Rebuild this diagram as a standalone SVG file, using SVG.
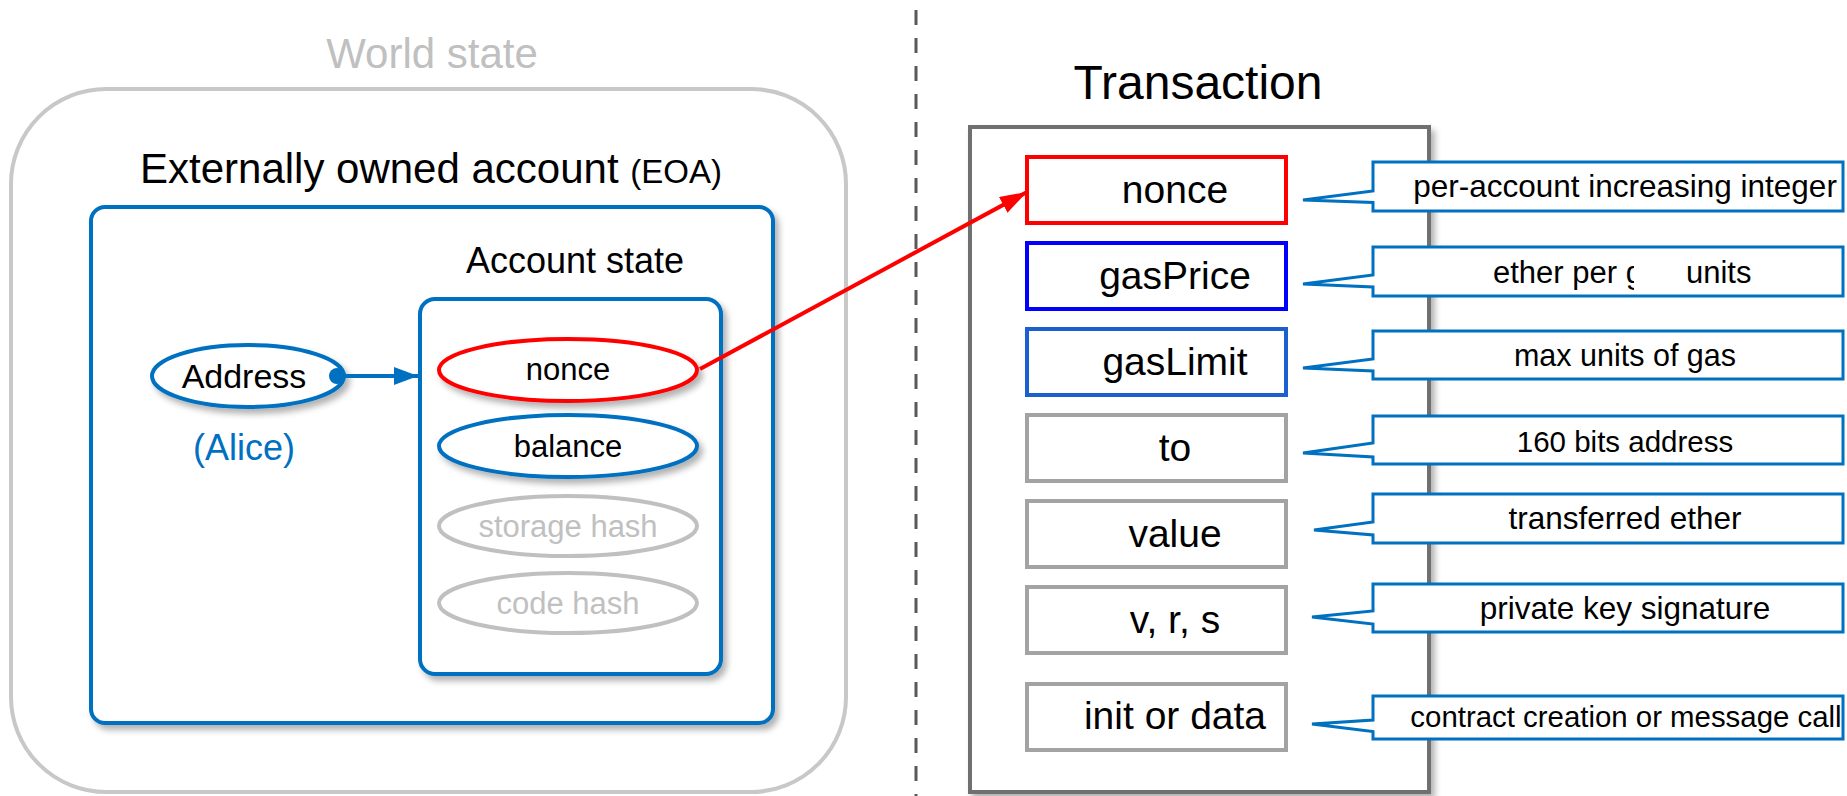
<svg xmlns="http://www.w3.org/2000/svg" width="1847" height="796" viewBox="0 0 1847 796">
<style>
text{font-family:"Liberation Sans",Arial,sans-serif}
.title{font-size:42px;fill:#000}
.blueBox{fill:#fff;stroke:#0070c0;stroke-width:4}
.ell{fill:#fff;stroke-width:4}
.etxt{font-size:31px;text-anchor:middle;fill:#000}
.field{fill:#fff;stroke-width:4}
.ftxt{font-size:39px;text-anchor:middle;fill:#000}
.call{fill:#fff;stroke:#0070c0;stroke-width:3;stroke-linejoin:miter}
.ctxt{font-size:31px;text-anchor:middle;fill:#000}
</style>
<defs>
<filter id="sh" x="-10%" y="-10%" width="130%" height="130%">
<feDropShadow dx="4" dy="5" stdDeviation="3" flood-color="#000" flood-opacity="0.3"/>
</filter>
<marker id="arrBlue" markerWidth="24" markerHeight="18" refX="24" refY="9" orient="auto" markerUnits="userSpaceOnUse">
<path d="M0,0 L24,9 L0,18 Z" fill="#0070c0"/>
</marker>
<marker id="arrRed" markerWidth="27" markerHeight="18" refX="27" refY="9" orient="auto" markerUnits="userSpaceOnUse">
<path d="M0,0 L27,9 L0,18 Z" fill="#ff0000"/>
</marker>
<clipPath id="clipG"><rect x="1480" y="240" width="154" height="60"/></clipPath>
</defs>
<rect width="1847" height="796" fill="#fff"/>

<g id="divider">
<line x1="916" y1="10" x2="916" y2="796" stroke="#595959" stroke-width="3" stroke-dasharray="15 13"/>
</g>

<g id="world-state">
<text x="432" y="68" class="title" text-anchor="middle" style="fill:#c0c0c0">World state</text>
<rect x="11" y="89" width="835" height="703" rx="95" ry="95" fill="#fff" stroke="#c8c8c8" stroke-width="4"/>
</g>

<g id="eoa">
<text x="140" y="183" class="title">Externally owned account <tspan style="font-size:33px">(EOA)</tspan></text>
<rect x="91" y="207" width="682" height="516" rx="14" class="blueBox" filter="url(#sh)"/>
</g>

<g id="account-state">
<text x="575" y="273" style="font-size:36px;text-anchor:middle">Account state</text>
<rect x="420" y="299" width="301" height="375" rx="15" class="blueBox" filter="url(#sh)"/>
</g>

<g id="address">
<ellipse cx="248" cy="376" rx="96" ry="31" class="ell" stroke="#0070c0" filter="url(#sh)"/>
<text x="244" y="388" style="font-size:34px;text-anchor:middle">Address</text>
<text x="244" y="460" style="font-size:36px;text-anchor:middle;fill:#0070c0">(Alice)</text>
</g>

<g id="acct-nonce">
<ellipse cx="568" cy="370" rx="129" ry="31" class="ell" stroke="#ff0000" filter="url(#sh)"/>
<text x="568" y="380" class="etxt">nonce</text>
</g>
<g id="acct-balance">
<ellipse cx="568" cy="446" rx="129" ry="31" class="ell" stroke="#0070c0" filter="url(#sh)"/>
<text x="568" y="457" class="etxt">balance</text>
</g>
<g id="acct-storage">
<ellipse cx="568" cy="526" rx="129" ry="30" class="ell" stroke="#c0c0c0"/>
<text x="568" y="537" class="etxt" style="fill:#c0c0c0">storage hash</text>
</g>
<g id="acct-code">
<ellipse cx="568" cy="603" rx="129" ry="30" class="ell" stroke="#c0c0c0"/>
<text x="568" y="614" class="etxt" style="fill:#c0c0c0">code hash</text>
</g>

<g id="transaction">
<text x="1198" y="99" style="font-size:48px;text-anchor:middle">Transaction</text>
<rect x="970" y="127" width="459" height="665" fill="#fff" stroke="#707070" stroke-width="4" filter="url(#sh)"/>
</g>

<g id="tx-nonce"><rect x="1027" y="157" width="259" height="66" class="field" stroke="#ff0000"/><text x="1175" y="203" class="ftxt">nonce</text></g>
<g id="tx-gasPrice"><rect x="1027" y="243" width="259" height="66" class="field" stroke="#0000ff"/><text x="1175" y="289" class="ftxt">gasPrice</text></g>
<g id="tx-gasLimit"><rect x="1027" y="329" width="259" height="66" class="field" stroke="#1c5fcf"/><text x="1175" y="375" class="ftxt">gasLimit</text></g>
<g id="tx-to"><rect x="1027" y="415" width="259" height="66" class="field" stroke="#a3a3a3"/><text x="1175" y="461" class="ftxt">to</text></g>
<g id="tx-value"><rect x="1027" y="501" width="259" height="66" class="field" stroke="#a3a3a3"/><text x="1175" y="547" class="ftxt">value</text></g>
<g id="tx-vrs"><rect x="1027" y="587" width="259" height="66" class="field" stroke="#a3a3a3"/><text x="1175" y="633" class="ftxt">v, r, s</text></g>
<g id="tx-init"><rect x="1027" y="684" width="259" height="66" class="field" stroke="#a3a3a3"/><text x="1175" y="729" class="ftxt">init or data</text></g>

<g id="callout-nonce"><path class="call" d="M1373,162 H1843 V211 H1373 V202.5 L1303,200 L1373,191 Z"/><text x="1625" y="197" class="ctxt" style="font-size:31.5px">per-account increasing integer</text></g>
<g id="callout-gasPrice"><path class="call" d="M1373,247 H1843 V296 H1373 V287 L1303,284 L1373,275 Z"/><text x="1493" y="283" class="ctxt" style="text-anchor:start" clip-path="url(#clipG)">ether per g</text><text x="1686" y="283" class="ctxt" style="text-anchor:start">units</text></g>
<g id="callout-gasLimit"><path class="call" d="M1373,331 H1843 V379 H1373 V371 L1303,368 L1373,359 Z"/><text x="1625" y="366" class="ctxt" style="font-size:30.5px">max units of gas</text></g>
<g id="callout-to"><path class="call" d="M1373,416 H1843 V464 H1373 V457 L1303,453 L1373,443 Z"/><text x="1625" y="452" class="ctxt" style="font-size:29.5px">160 bits address</text></g>
<g id="callout-value"><path class="call" d="M1373,494 H1843 V543 H1373 V535 L1314,530 L1373,522 Z"/><text x="1625" y="529" class="ctxt" style="font-size:31.5px">transferred ether</text></g>
<g id="callout-vrs"><path class="call" d="M1373,584 H1843 V632 H1373 V624 L1312,617 L1373,611 Z"/><text x="1625" y="619" class="ctxt" style="font-size:31.5px">private key signature</text></g>
<g id="callout-init"><path class="call" d="M1373,696 H1843 V739 H1373 V731.5 L1312,724 L1373,720 Z"/><text x="1626" y="727" class="ctxt" style="font-size:29.4px">contract creation or message call</text></g>

<g id="connectors">
<line x1="337" y1="376" x2="418" y2="376" stroke="#0070c0" stroke-width="4" marker-end="url(#arrBlue)"/>
<circle cx="337" cy="376" r="8" fill="#0070c0"/>
<line x1="700" y1="369" x2="1027" y2="192" stroke="#ff0000" stroke-width="4" marker-end="url(#arrRed)"/>
</g>
</svg>
